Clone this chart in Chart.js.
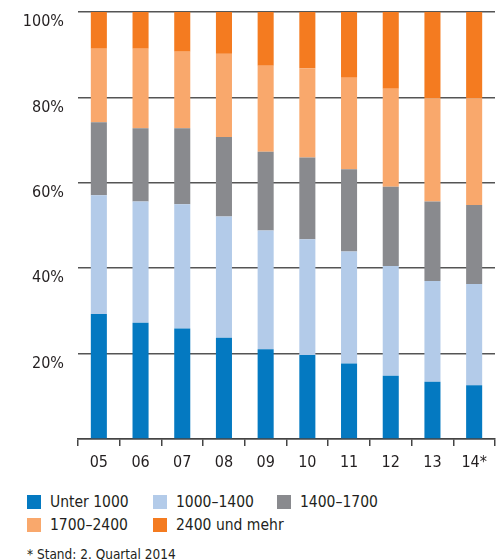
<!DOCTYPE html>
<html>
<head>
<meta charset="utf-8">
<script src="https://cdn.jsdelivr.net/npm/chart.js@4"></script>
<style>
  body { margin: 0; background: #fff; font-family: "DejaVu Sans Condensed", sans-serif; color: #231f20; }
  #wrap { position: relative; width: 499px; height: 480px; }
  #legend { position: absolute; left: 27px; top: 492px; width: 470px; font-size: 15.5px; }
  .item { position: absolute; white-space: nowrap; line-height: 20px; }
  .box { display: inline-block; width: 14px; height: 14px; vertical-align: -2px; margin-right: 9px; }
  #note { position: absolute; left: 27px; top: 546px; font-size: 13.5px; white-space: nowrap; }
</style>
</head>
<body>
<div id="wrap"><canvas id="chart" width="499" height="480"></canvas></div>
<div id="legend"></div>
<div id="note">* Stand: 2. Quartal 2014</div>
<script>
// Jahre (Kategorien)
const jahre = ['05', '06', '07', '08', '09', '10', '11', '12', '13', '14*'];

// Anteile in Prozent je Gruppe
const unter1000 = [29.3, 27.2, 25.9, 23.7, 21.0, 19.7, 17.7, 14.8, 13.4, 12.6];
const von1000bis1400 = [27.8, 28.4, 29.1, 28.4, 27.8, 27.1, 26.2, 25.7, 23.6, 23.7];
const von1400bis1700 = [17.1, 17.2, 17.8, 18.6, 18.5, 19.1, 19.3, 18.6, 18.6, 18.5];
const von1700bis2400 = [17.2, 18.6, 17.9, 19.5, 20.1, 20.9, 21.4, 22.9, 24.2, 25.0];
const ab2400 = [8.6, 8.6, 9.3, 9.8, 12.6, 13.2, 15.4, 18.0, 20.2, 20.2];

const gruppen = ['Unter 1000', '1000\u20131400', '1400\u20131700', '1700\u20132400', '2400 und mehr'];
const farben = ['#0479c1', '#b3cbe9', '#898a8e', '#f9a86c', '#f47b20'];
const yTicks = [0, 20, 40, 60, 80, 100];

const werte = [unter1000, von1000bis1400, von1400bis1700, von1700bis2400, ab2400];

const datasets = gruppen.map((g, i) => ({
  label: g,
  data: werte[i],
  backgroundColor: farben[i],
  categoryPercentage: 1,
  barPercentage: 0.385
}));

const schrift = { family: '"DejaVu Sans Condensed", sans-serif', size: 16 };

new Chart(document.getElementById('chart'), {
  type: 'bar',
  data: { labels: jahre, datasets: datasets },
  options: {
    responsive: false,
    animation: false,
    layout: { padding: { top: 12, right: 4, left: 0, bottom: 0 } },
    plugins: { legend: { display: false }, tooltip: { enabled: false } },
    scales: {
      x: {
        stacked: true,
        grid: { drawOnChartArea: false, drawTicks: true, tickLength: 7, color: '#444', lineWidth: 1.5, offset: true },
        border: { display: true, color: '#444', width: 1.5 },
        ticks: { color: '#231f20', font: schrift, padding: 7, maxRotation: 0 },
        afterFit: s => { s.height = 41; s.paddingLeft = 0; s.paddingRight = 0; }
      },
      y: {
        stacked: true,
        min: 0,
        max: 100,
        afterBuildTicks: s => { s.ticks = yTicks.map(v => ({ value: v })); },
        grid: { color: '#555', lineWidth: 1.5, drawTicks: false },
        border: { display: false },
        ticks: {
          color: '#231f20',
          font: schrift,
          padding: 14,
          labelOffset: 10,
          callback: v => v === 0 ? '' : v + '%'
        },
        afterFit: s => { s.width = 78; s.paddingTop = 0; s.paddingBottom = 0; }
      }
    }
  }
});

// Legende als Text
const pos = [[0, 0], [126, 0], [250, 0], [0, 23], [126, 23]];
const legende = document.getElementById('legend');
gruppen.forEach((g, i) => {
  const el = document.createElement('div');
  el.className = 'item';
  el.style.left = pos[i][0] + 'px';
  el.style.top = pos[i][1] + 'px';
  el.innerHTML = '<span class="box" style="background:' + farben[i] + '"></span>' + g;
  legende.appendChild(el);
});
</script>
</body>
</html>
